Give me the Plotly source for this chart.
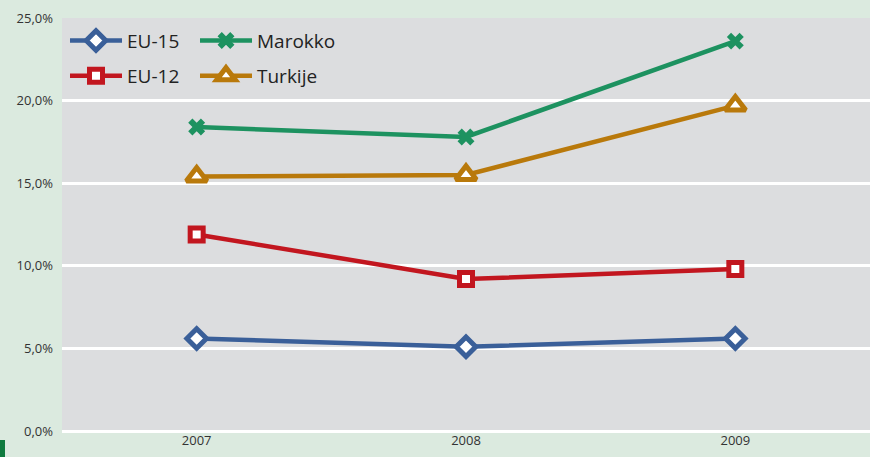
import plotly.graph_objects as go

years = ["2007", "2008", "2009"]
eu15 = [5.6, 5.1, 5.6]
eu12 = [11.9, 9.2, 9.8]
marokko = [18.4, 17.8, 23.6]
turkije = [15.4, 15.5, 19.7]

y_ticks = [0, 5, 10, 15, 20, 25]
y_labels = ["0,0%", "5,0%", "10,0%", "15,0%", "20,0%", "25,0%"]

BLUE = "#3a5f99"
RED = "#c2161f"
GREEN = "#1d9260"
GOLD = "#b9790b"

fig = go.Figure()

def add(name, values, color, symbol, fill, size, lw, legend):
    fig.add_trace(go.Scatter(
        x=years, y=values, name=name, mode="lines+markers",
        line=dict(color=color, width=4.5),
        marker=dict(symbol=symbol, size=size, color=fill,
                    line=dict(color=color, width=lw)),
        legend=legend, showlegend=True,
    ))

# one legend box per entry, laid out as a 2x2 grid in the top-left corner
add("EU-15", eu15, BLUE, "diamond", "white", 15, 5, "legend")
add("Marokko", marokko, GREEN, "x", GREEN, 15, 0, "legend2")
add("EU-12", eu12, RED, "square", "white", 13, 5, "legend3")
add("Turkije", turkije, GOLD, "triangle-up", "white", 18, 5, "legend4")

legend_common = dict(
    xanchor="left", yanchor="middle",
    bgcolor="rgba(0,0,0,0)", itemwidth=52,
    font=dict(family="Open Sans", size=19, color="#222222"),
    itemclick=False,
)
col1, col2 = 3 / 808, 133 / 808
row1, row2 = 0.945, 0.86

fig.update_layout(
    width=870, height=457,
    margin=dict(l=62, r=0, t=18, b=26),
    showlegend=True,
    paper_bgcolor="#dbeadf",
    plot_bgcolor="#dcdddf",
    font=dict(family="Open Sans", size=13, color="#333333"),
    legend=dict(x=col1, y=row1, **legend_common),
    legend2=dict(x=col2, y=row1, **legend_common),
    legend3=dict(x=col1, y=row2, **legend_common),
    legend4=dict(x=col2, y=row2, **legend_common),
    xaxis=dict(
        type="category", range=[-0.5, 2.5], showgrid=False,
        zeroline=False, showline=False, ticks="",
        tickfont=dict(size=13, color="#333333"),
    ),
    yaxis=dict(
        range=[0, 25], tickvals=y_ticks, ticktext=y_labels,
        showgrid=True, gridcolor="white", gridwidth=3,
        zeroline=True, zerolinecolor="white", zerolinewidth=3,
        showline=False, ticks="", ticklabelstandoff=8,
        tickfont=dict(size=13, color="#333333"),
    ),
    shapes=[dict(type="rect", xref="paper", yref="paper",
                 x0=-62 / 808, x1=-57 / 808, y0=-26 / 413, y1=-9 / 413,
                 fillcolor="#0e7a3e", line=dict(width=0), layer="above")],
)

fig.write_html("out.html")
